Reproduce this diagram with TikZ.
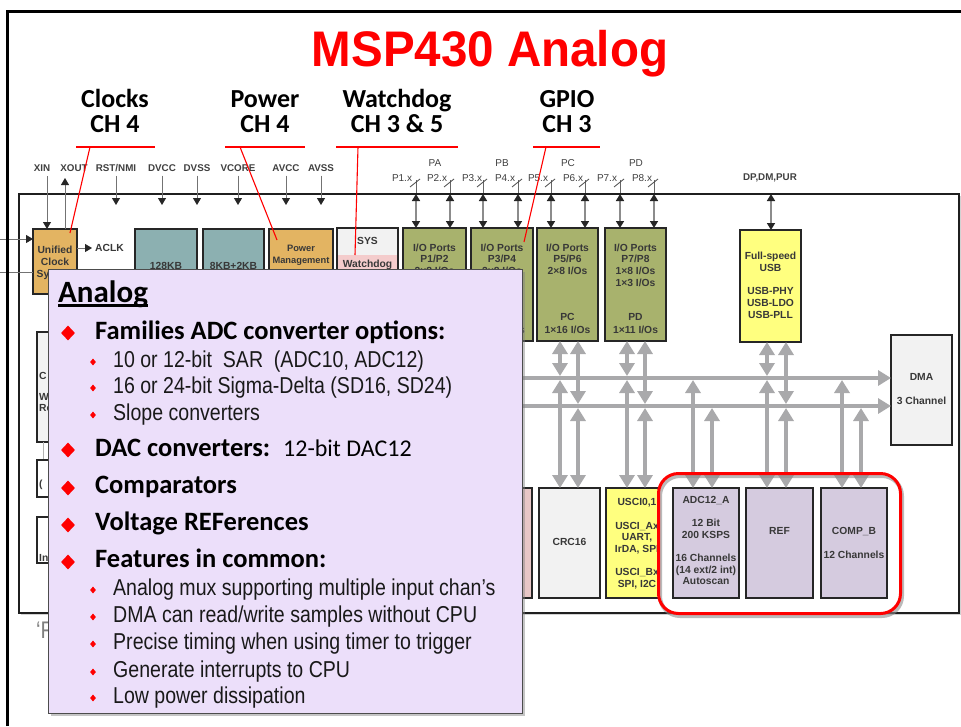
\documentclass[tikz,border=0pt]{standalone}
\usepackage{fontspec}
\setmainfont{Carlito}
\newfontfamily\arial{Liberation Sans}
\newfontfamily\arialn[FakeStretch=0.85]{Liberation Sans}
\newfontfamily\titlefont[FakeStretch=0.95]{Liberation Sans}
\usetikzlibrary{arrows.meta,shapes.geometric,shadows}
\definecolor{clkc}{HTML}{E3B462}
\definecolor{memc}{HTML}{8CB0B1}
\definecolor{iog}{HTML}{A8B26D}
\definecolor{usby}{HTML}{FFFF7F}
\definecolor{lgr}{HTML}{F2F2F2}
\definecolor{pnk}{HTML}{F4CCCC}
\definecolor{pnkb}{HTML}{E8C6C6}
\definecolor{anl}{HTML}{D5CBDF}
\definecolor{callc}{HTML}{ECDFFA}
\definecolor{busg}{HTML}{A9A9AB}
\tikzset{
  box/.style={draw=black!85, line width=1.3pt, anchor=north west, inner sep=0pt, outer sep=0pt},
  dt/.style={font=\arial\bfseries\fontsize{10.3}{11}\selectfont, text=black!78, inner sep=0pt, text height=7.4pt, text depth=2pt},
  pinlbl/.style={font=\arial\bfseries\fontsize{9.8}{11}\selectfont, text=black!75, inner sep=0pt},
  portlbl/.style={font=\arial\fontsize{10}{11}\selectfont, text=black!75, inner sep=0pt},
  pinarr/.style={draw=black!55, line width=0.9pt, -{Triangle[length=7pt,width=8pt,color=black!85]}},
  portarr/.style={draw=black!45, line width=1.6pt, {Triangle[length=7pt,width=8pt,color=black!85]}-{Triangle[length=7pt,width=8pt,color=black!85]}},
  busline/.style={draw=busg, line width=4pt, -{Triangle[length=13pt,width=15pt]}},
  busdbl/.style={draw=busg, line width=4pt, {Triangle[length=13pt,width=15pt]}-{Triangle[length=13pt,width=15pt]}},
  redline/.style={draw=red, line width=1.1pt},
  head/.style={font=\bfseries\fontsize{26}{30}\selectfont, inner sep=0pt, anchor=base},
  bigt/.style={font=\bfseries\fontsize{26.5}{30}\selectfont, inner sep=0pt, anchor=base west},
  subt/.style={font=\arialn\fontsize{23}{26}\selectfont, text=black!90, inner sep=0pt, anchor=base west},
  bigd/.style={diamond, fill=red, inner sep=0pt, minimum width=14pt, minimum height=15pt},
  smd/.style={diamond, fill=red, inner sep=0pt, minimum width=6pt, minimum height=7pt},
  frag/.style={font=\arial\bfseries\fontsize{10.3}{11}\selectfont, text=black!78, inner sep=0pt, anchor=west},
}
\begin{document}
\begin{tikzpicture}[x=1pt,y=-1pt]
\fill[white] (0,0) rectangle (961,726);
\useasboundingbox (0,0) rectangle (961,726);

% title
\node[font=\titlefont\bfseries\fontsize{50}{56}\selectfont, text=red, inner sep=0pt, anchor=base] (title) at (490,66) {MSP430 Analog};

% headings
\node[head] (hc1) at (115,107) {Clocks};
\node[head] (hc2) at (115,132) {CH 4};
\node[head] (hp1) at (265,107) {Power};
\node[head] (hp2) at (265,132) {CH 4};
\node[head] (hw1) at (397,107) {Watchdog};
\node[head] (hw2) at (397,132) {CH 3 \& 5};
\node[head] (hg1) at (567,107) {GPIO};
\node[head] (hg2) at (567,132) {CH 3};

% frame of the block diagram
\node[draw=black!88, line width=2pt, fill=white, anchor=north west, minimum width=940pt, minimum height=419pt, inner sep=0pt, drop shadow={shadow xshift=1.5pt, shadow yshift=-1.5pt, opacity=0.35}] (frm) at (18,193) {};

% pin labels
\node[pinlbl] (pxin) at (42,168) {XIN};
\node[pinlbl] (pxout) at (74,168) {XOUT};
\node[pinlbl] (prst) at (116,168) {RST/NMI};
\node[pinlbl] (pdvcc) at (162,168) {DVCC};
\node[pinlbl] (pdvss) at (197,168) {DVSS};
\node[pinlbl] (pvcore) at (238,168) {VCORE};
\node[pinlbl] (pavcc) at (286,168) {AVCC};
\node[pinlbl] (pavss) at (321,168) {AVSS};
\coordinate (tipy) at (0,205);
\foreach \p in {prst,pdvcc,pdvss,pvcore,pavcc,pavss}
  \draw[pinarr] ([yshift=-4pt]\p.south) -- (\p.south |- tipy);

% port labels
\node[portlbl] (pa) at (435,163) {PA};
\node[portlbl] (pb) at (502,163) {PB};
\node[portlbl] (pc) at (568,163) {PC};
\node[portlbl] (pd) at (636,163) {PD};
\node[pinlbl] (dpdm) at (770,178) {DP,DM,PUR};

% boxes: top row
\node[box, fill=clkc, minimum width=44pt, minimum height=65pt] (clk) at (33,229) {};
\node[box, fill=memc, minimum width=62pt, minimum height=80pt] (m1) at (135,229) {};
\node[box, fill=memc, minimum width=61pt, minimum height=80pt] (m2) at (203,229) {};
\node[box, fill=clkc, minimum width=64pt, minimum height=80pt] (pwr) at (269,229) {};
\node[box, fill=lgr, minimum width=61pt, minimum height=80pt] (sys) at (337,228) {};
\fill[pnk] (338,255) rectangle (397.3,307);
\node[box, fill=iog, minimum width=63pt, minimum height=113pt] (io1) at (403,228) {};
\node[box, fill=iog, minimum width=62pt, minimum height=113pt] (io2) at (471,228) {};
\node[box, fill=iog, minimum width=61pt, minimum height=113pt] (io3) at (537,228) {};
\node[box, fill=iog, minimum width=61pt, minimum height=113pt] (io4) at (605,228) {};
\node[box, fill=usby, minimum width=61pt, minimum height=112pt] (usb) at (740,230) {};
\node[box, fill=lgr, minimum width=61pt, minimum height=110pt] (dma) at (891,335) {};

% left boxes
\node[box, fill=lgr, minimum width=93pt, minimum height=110pt] (cpu) at (37,332) {};
\draw[black!30, line width=1pt] (43,442) -- (43,460);
\node[box, fill=white, minimum width=93pt, minimum height=37pt] (lb2) at (37,460) {};
\node[box, fill=white, minimum width=93pt, minimum height=46pt] (lb3) at (37,517) {};

% bottom row
\node[box, fill=pnkb, minimum width=62pt, minimum height=110pt] (pk) at (470,488) {};
\node[box, fill=lgr, minimum width=61pt, minimum height=110pt] (crc) at (539,488) {};
\node[box, fill=usby, minimum width=53pt, minimum height=110pt] (usci) at (606,488) {};
\node[box, fill=anl, minimum width=66pt, minimum height=110pt] (adc) at (673,488) {};
\node[box, fill=anl, minimum width=67pt, minimum height=110pt] (ref) at (746,488) {};
\node[box, fill=anl, minimum width=66pt, minimum height=110pt] (comp) at (821,488) {};

% clock connections
\coordinate (xa) at (47,176);
\draw[pinarr] (xa) -- (xa |- clk.north);
\coordinate (xo) at (65,178);
\draw[pinarr] (xo |- clk.north) -- (xo);
\coordinate (ac) at (92,248);
\draw[pinarr] (clk.east |- ac) -- (ac);
\node[frag] (aclk) at (95,248) {ACLK};
\coordinate (li1) at (0,239);
\draw[pinarr] (li1) -- (li1 -| clk.west);
\coordinate (li2) at (0,272);
\draw[black!55, line width=0.9pt] (li2) -- (li2 -| clk.west);

% port arrows
\foreach \i/\x/\lx in {1/416/402, 2/450/437, 3/483/472, 4/518/505, 5/551/538, 6/585/573, 7/620/607, 8/654/642} {
  \node[portlbl] (pl\i) at (\lx,178) {P\i.x};
  \coordinate (px\i) at (\x,180);
  \draw[black!60, line width=0.8pt] (px\i) -- (px\i |- frm.north);
  \draw[black!70, line width=0.8pt] ([xshift=-6pt,yshift=-7pt]px\i) -- ([xshift=4pt,yshift=1pt]px\i);
  \draw[portarr] ([yshift=-1pt]px\i |- frm.north) -- (px\i |- io1.north);
}
\coordinate (usbx) at (771,0);
\draw[portarr] ([yshift=-1pt]usbx |- frm.north) -- (usbx |- usb.north);

% box texts
\foreach \t/\y [count=\k] in {Unified/251, Clock/263, System/275}
  \node[dt] (clkt\k) at (55,\y) {\t};
\node[dt] (m1t) at (166,267) {128KB};
\node[dt] (m2t) at (233.5,267) {8KB+2KB};
\node[dt, font=\arial\bfseries\fontsize{9.3}{10}\selectfont] (pw1) at (301,249) {Power};
\node[dt, font=\arial\bfseries\fontsize{9.3}{10}\selectfont] (pw2) at (301,261) {Management};
\node[dt] (sy1) at (367.5,242) {SYS};
\node[dt] (sy2) at (367.5,265) {Watchdog};
\node[dt] (io1a) at (434.5,249) {I/O Ports};
\node[dt] (io1b) at (434.5,260) {P1/P2};
\node[dt] (io1c) at (434.5,272) {2×8 I/Os};
\foreach \n/\c/\pp/\q in {io2/502/P3\slash P4/PB, io3/567.5/P5\slash P6/PC} {
  \node[dt] (\n a) at (\c,249) {I\slash O Ports};
  \node[dt] (\n b) at (\c,260) {\pp};
  \node[dt] (\n c) at (\c,272) {2×8 I\slash Os};
  \node[dt] (\n d) at (\c,318) {\q};
  \node[dt] (\n e) at (\c,331) {1×16 I\slash Os};
}
\node[dt] (io4a) at (635.5,249) {I/O Ports};
\node[dt] (io4b) at (635.5,260) {P7/P8};
\node[dt] (io4c) at (635.5,272) {1×8 I/Os};
\node[dt] (io4f) at (635.5,284) {1×3 I/Os};
\node[dt] (io4d) at (635.5,318) {PD};
\node[dt] (io4e) at (635.5,331) {1×11 I/Os};
\node[dt] (us1) at (770.5,257) {Full-speed};
\node[dt] (us2) at (770.5,269) {USB};
\node[dt] (us3) at (770.5,292) {USB-PHY};
\node[dt] (us4) at (770.5,304) {USB-LDO};
\node[dt] (us5) at (770.5,316) {USB-PLL};
\node[dt] (dm1) at (921.5,378) {DMA};
\node[dt] (dm2) at (921.5,402) {3 Channel};
\node[dt] (crct) at (569.5,543) {CRC16};
\begin{scope}
  \clip (usci.north west) rectangle (usci.south east);
  \node[dt] (uc1) at (637,503) {USCI0,1};
  \node[dt] (uc2) at (637,527) {USCI\_Ax};
  \node[dt] (uc3) at (637,538) {UART,};
  \node[dt] (uc4) at (637,550) {IrDA, SPI};
  \node[dt] (uc5) at (637,573) {USCI\_Bx};
  \node[dt] (uc6) at (637,585) {SPI, I2C};
\end{scope}
\node[dt] (ad1) at (706,501) {ADC12\_A};
\node[dt] (ad2) at (706,524) {12 Bit};
\node[dt] (ad3) at (706,536) {200 KSPS};
\node[dt] (ad4) at (706,559) {16 Channels};
\node[dt] (ad5) at (706,571) {(14 ext/2 int)};
\node[dt] (ad6) at (706,582) {Autoscan};
\node[dt] (reft) at (779.5,532) {REF};
\node[dt] (cp1) at (854,532) {COMP\_B};
\node[dt] (cp2) at (854,556) {12 Channels};

% left fragments
\node[frag] (f1) at (39,376) {C};
\node[frag] (f2) at (39,397) {W};
\node[frag] (f3) at (39,408) {Re};
\node[frag] (f4) at (39,485) {(};
\node[frag] (f5) at (39,558) {In};
\node[font=\arialn\fontsize{24}{26}\selectfont, text=black!50, anchor=base west, inner sep=0pt] (fn) at (36,638) {‘F};

% buses
\coordinate (b1) at (130,378);
\coordinate (b2) at (130,406);
\draw[busline] (b1) -- (b1 -| dma.west);
\draw[busline] (b2) -- (b2 -| dma.west);
\foreach \x/\tp/\bt/\b in {560/io3/crc/b1, 578/io3/crc/b2, 627/io4/usci/b1, 645/io4/usci/b2, 767/usb/ref/b1, 786/usb/ref/b2} {
  \coordinate (vx) at (\x,0);
  \draw[busdbl, shorten >=2pt] (vx |- \tp.south) -- (vx |- \b);
  \draw[busdbl, shorten <=2pt] (vx |- \b) -- (vx |- \bt.north);
}
\foreach \x/\bt/\b in {693/adc/b1, 712/adc/b2, 842/comp/b1, 861/comp/b2} {
  \coordinate (vx) at (\x,0);
  \draw[busdbl, shorten <=2pt] (vx |- \b) -- (vx |- \bt.north);
}

% red highlight
\draw[black!45, opacity=0.6, line width=4pt, rounded corners=20pt] (660,476) rectangle (902,616);
\node[draw=red, line width=3pt, rounded corners=20pt, anchor=north west, minimum width=242pt, minimum height=140pt, inner sep=0pt] (hl) at (657,472) {};

% red pointer lines
\coordinate (r1a) at (76,147); \coordinate (r1b) at (155,147);
\coordinate (r1c) at (90,147); \coordinate (r1d) at (70,233);
\coordinate (r2a) at (225,147); \coordinate (r2b) at (305,147);
\coordinate (r2c) at (240,147); \coordinate (r2d) at (277,240);
\coordinate (r3a) at (336,147); \coordinate (r3b) at (458,147);
\coordinate (r3c) at (358,147); \coordinate (r3d) at (355,255);
\coordinate (r4a) at (533,147); \coordinate (r4b) at (600,147);
\coordinate (r4c) at (546,147); \coordinate (r4d) at (524,242);
\foreach \r in {1,2,3,4} {
  \draw[redline] (r\r a) -- (r\r b);
  \draw[redline] (r\r c) -- (r\r d);
}

% callout
\node[anchor=north west, minimum width=474pt, minimum height=444pt, fill=callc, draw=black!70, line width=0.8pt, inner sep=0pt, drop shadow={shadow xshift=3pt, shadow yshift=-3pt, opacity=0.45}] (co) at (48,269) {};
\node[font=\bfseries\fontsize{31}{34}\selectfont, anchor=base west, inner sep=0pt] (co0) at (58,302) {Analog};
\draw[line width=2.2pt] ([yshift=-3.5pt]co0.base west) -- ([yshift=-3.5pt]co0.base east);

\node[bigd] (d1) at (68,333) {};
\node[bigt] (t1) at (95,339) {Families ADC converter options:};
\node[smd] (s1) at (93,362) {};
\node[subt] (u1) at (113,367) {10 or 12-bit\ \ SAR\ \ (ADC10, ADC12)};
\node[smd] (s2) at (93,388) {};
\node[subt] (u2) at (113,393) {16 or 24-bit Sigma-Delta (SD16, SD24)};
\node[smd] (s3) at (93,415) {};
\node[subt] (u3) at (113,420) {Slope converters};
\node[bigd] (d2) at (68,450) {};
\node[bigt] (t2) at (95,456) {DAC converters:};
\node[font=\fontsize{24}{27}\selectfont, anchor=base west, inner sep=0pt] (t2b) at (283,456) {12-bit DAC12};
\node[bigd] (d3) at (68,488) {};
\node[bigt] (t3) at (95,493) {Comparators};
\node[bigd] (d4) at (68,525) {};
\node[bigt] (t4) at (95,530) {Voltage REFerences};
\node[bigd] (d5) at (68,562) {};
\node[bigt] (t5) at (95,567) {Features in common:};
\foreach \y/\t [count=\k] in {595/Analog mux supporting multiple input chan’s, 622/DMA can read\slash write samples without CPU, 649/Precise timing when using timer to trigger, 677/Generate interrupts to CPU, 703/Low power dissipation} {
  \node[smd] (fs\k) at (93,\y-5) {};
  \node[subt] (fu\k) at (113,\y) {\t};
}

% slide border
\draw[line width=3pt] (7,726) -- (7,11) -- (961,11);
\end{tikzpicture}
\end{document}
